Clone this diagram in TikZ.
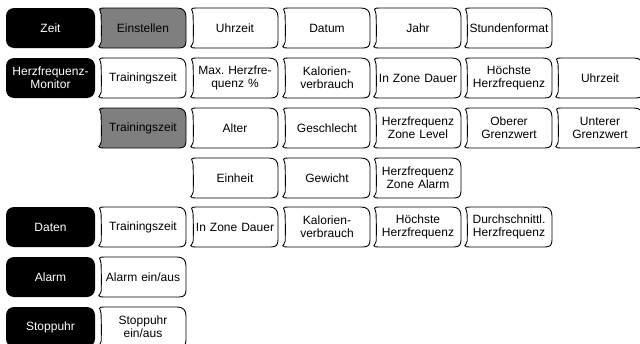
\documentclass[tikz,border=0pt]{standalone}
\usepackage{fontspec}
\setmainfont{Liberation Sans}
\definecolor{boxgray}{HTML}{7F7F7F}
\tikzset{
  lbl/.style={inner sep=0pt, text width=86pt, align=center,
    font=\fontsize{12}{13.4}\selectfont},
  tabline/.style={draw=black, line width=0.9pt},
}
% #1 name, #2 left x, #3 top y (pixels, downward), #4 fill, #5 text colour, #6 text
\newcommand\mytab[6]{%
  \begin{scope}[shift={(#2,-#3)}]
    \path[tabline, fill=#4]
      (5,0) -- (78,0) .. controls (84,0) and (87,-3) .. (87,-9)
      -- (87,-33) .. controls (87,-38) and (85,-40) .. (80,-40)
      -- (4.5,-40) .. controls (2,-40) and (0,-39.8) .. (-0.2,-38.6)
      .. controls (-0.3,-37.4) and (2.2,-36.8) .. (2.2,-34)
      .. controls (2.4,-26) and (2.4,-14) .. (2,-6)
      .. controls (1.8,-3) and (0.4,-2.6) .. (0.6,-1.2)
      .. controls (0.9,-0.2) and (2.5,0) .. (5,0) -- cycle;
  \end{scope}
  \node[lbl, text=#5] (#1) at ({#2+44},{-#3-20}) {#6};
}
% black head boxes
\newcommand\myhead[4]{% #1 name, #2 left x, #3 top y, #4 text
  \path[fill=black, rounded corners=8pt] (#2,-#3) rectangle ({#2+89},{-#3-40});
  \node[lbl, text=white] (#1) at ({#2+44.5},{-#3-20}) {#4};
}
\begin{document}
\begin{tikzpicture}[x=1pt,y=1pt]
\useasboundingbox (0,0) rectangle (640,-343);
\fill[white] (0,0) rectangle (640,-343);
% row 1
\myhead{zeit}{6}{8}{Zeit}
\mytab{einst}{99}{8}{boxgray}{black}{\color{black}Einstellen}
\mytab{uhr}{191}{8}{white}{black}{Uhrzeit}
\mytab{datum}{283}{8}{white}{black}{Datum}
\mytab{jahr}{374}{8}{white}{black}{Jahr}
\mytab{stdfmt}{465}{8}{white}{black}{Stundenformat}
% row 2
\myhead{hfm}{6}{58}{Herzfrequenz-\\Monitor}
\mytab{tz}{99}{58}{white}{black}{Trainingszeit}
\mytab{maxhf}{191}{58}{white}{black}{Max.\ Herzfre-\\quenz \%}
\mytab{kal}{283}{58}{white}{black}{Kalorien-\\verbrauch}
\mytab{izd}{374}{58}{white}{black}{In Zone Dauer}
\mytab{hhf}{465}{58}{white}{black}{Höchste\\Herzfrequenz}
\mytab{uhrb}{556}{58}{white}{black}{Uhrzeit}
% row 3
\mytab{tzg}{99}{108}{boxgray}{black}{\color{black}Trainingszeit}
\mytab{alter}{191}{108}{white}{black}{Alter}
\mytab{geschl}{283}{108}{white}{black}{Geschlecht}
\mytab{hfzl}{374}{108}{white}{black}{Herzfrequenz\\Zone Level}
\mytab{ogw}{465}{108}{white}{black}{Oberer\\Grenzwert}
\mytab{ugw}{556}{108}{white}{black}{Unterer\\Grenzwert}
% row 4
\mytab{einheit}{191}{158}{white}{black}{Einheit}
\mytab{gewicht}{283}{158}{white}{black}{Gewicht}
\mytab{hfza}{374}{158}{white}{black}{Herzfrequenz\\Zone Alarm}
% row 5
\myhead{daten}{6}{207}{Daten}
\mytab{dtz}{99}{207}{white}{black}{Trainingszeit}
\mytab{dizd}{191}{207}{white}{black}{In Zone Dauer}
\mytab{dkal}{283}{207}{white}{black}{Kalorien-\\verbrauch}
\mytab{dhhf}{374}{207}{white}{black}{Höchste\\Herzfrequenz}
\mytab{ddhf}{465}{207}{white}{black}{Durchschnittl.\\Herzfrequenz}
% row 6
\myhead{alarm}{6}{257}{Alarm}
\mytab{alarmea}{99}{257}{white}{black}{Alarm ein/aus}
% row 7
\myhead{stopp}{6}{307}{Stoppuhr}
\mytab{stoppea}{99}{307}{white}{black}{Stoppuhr\\ein/aus}
\end{tikzpicture}
\end{document}
